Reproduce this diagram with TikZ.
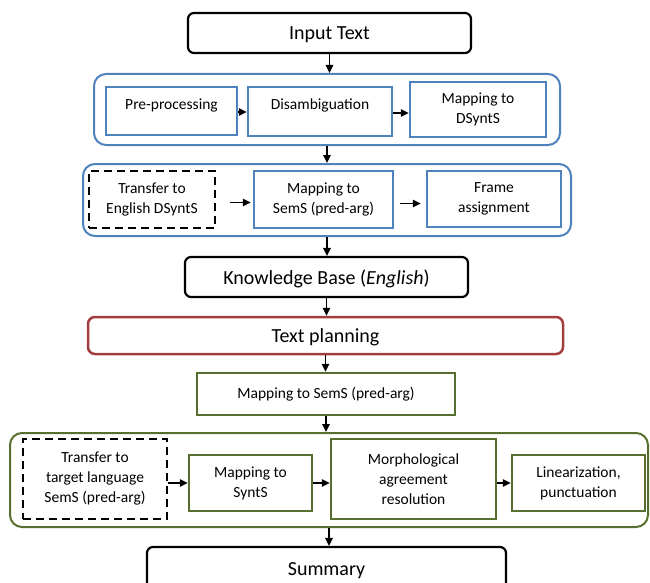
\documentclass[tikz,border=0pt]{standalone}
\usepackage{fontspec}
\setmainfont{Carlito}
\usetikzlibrary{arrows.meta}
\definecolor{cblue}{HTML}{4F81BD}
\definecolor{cred}{HTML}{A33C3C}
\definecolor{cgreen}{HTML}{58702F}
\tikzset{
  big/.style={draw=black, line width=2.2pt, rounded corners=6pt, font=\fontsize{20}{24}\selectfont, inner sep=0pt, text height=16pt, text depth=2pt},
  small/.style={line width=2.5pt, align=center, font=\fontsize{15.5}{20}\selectfont, inner sep=0pt},
  raised/.style={text height=2pt, text depth=5pt},
  bluebox/.style={small, draw=cblue},
  greenbox/.style={small, draw=cgreen},
  dashbox/.style={small, draw=black, dash pattern=on 8pt off 5pt},
  bluecont/.style={draw=cblue, line width=2pt, rounded corners=12pt, inner sep=0pt},
  greencont/.style={draw=cgreen, line width=2pt, rounded corners=12pt, inner sep=0pt},
  redbox/.style={draw=cred, line width=2.5pt, rounded corners=7pt, font=\fontsize{20}{24}\selectfont, inner sep=0pt, text height=16pt, text depth=2pt},
  arr/.style={draw=black, line width=1.3pt, -{Triangle[length=8pt,width=7.5pt]}},
}
\begin{document}
\begin{tikzpicture}[x=1pt,y=-1pt]
\useasboundingbox (0,0) rectangle (650,583);
% containers
\node[bluecont, minimum width=466pt, minimum height=71pt] (c1) at (327,109.5) {};
\node[bluecont, minimum width=488pt, minimum height=72pt] (c2) at (327,200) {};
\node[greencont, minimum width=638pt, minimum height=94pt] (c3) at (329,480) {};
% top
\node[big, minimum width=283pt, minimum height=40pt] (input) at (329.5,33) {Input Text};
% row 1
\node[bluebox, raised, minimum width=131pt, minimum height=48pt] (pre) at (171.5,111) {Pre-processing};
\node[bluebox, raised, minimum width=144pt, minimum height=49pt] (dis) at (320,111.5) {Disambiguation};
\node[bluebox, minimum width=136pt, minimum height=55pt] (mapd) at (478,109.5) {Mapping to\\DSyntS};
% row 2
\node[dashbox, minimum width=126pt, minimum height=57pt] (tren) at (152,199.5) {Transfer to\\English DSyntS};
\node[bluebox, minimum width=139pt, minimum height=57pt] (msem1) at (323.5,199.5) {Mapping to\\SemS (pred-arg)};
\node[bluebox, minimum width=134pt, minimum height=56pt] (frame) at (494,199) {Frame\\assignment};
% KB
\node[big, minimum width=283pt, minimum height=40pt] (kb) at (326.5,277) {Knowledge Base (\textit{English})};
% text planning
\node[redbox, minimum width=475pt, minimum height=37pt] (tp) at (325.5,335.5) {Text planning};
\node[greenbox, minimum width=258pt, minimum height=42pt] (msem2) at (326,394) {Mapping to SemS (pred-arg)};
% row 3
\node[dashbox, minimum width=144pt, minimum height=80pt] (ttl) at (95,479) {Transfer to\\target language\\SemS (pred-arg)};
\node[greenbox, minimum width=123pt, minimum height=56pt] (msyn) at (250.5,483) {Mapping to\\SyntS};
\node[greenbox, minimum width=165pt, minimum height=80pt] (morph) at (413.5,479) {Morphological\\agreement\\resolution};
\node[greenbox, minimum width=133pt, minimum height=56pt] (lin) at (578.5,483) {Linearization,\\punctuation};
% summary
\node[big, minimum width=359pt, minimum height=42pt] (sum) at (326.5,568) {Summary};
% vertical arrows
\draw[arr] (input.south) -- (input.south |- c1.north);
\draw[arr] (c1.south) -- (c1.south |- c2.north);
\draw[arr] (c2.south) -- (c2.south |- kb.north);
\draw[arr] (kb.south) -- (kb.south |- tp.north);
\draw[arr] (tp.south) -- (tp.south |- msem2.north);
\draw[arr] (msem2.south) -- (msem2.south |- c3.north);
\draw[arr] (c3.south) -- (c3.south |- sum.north);
% horizontal arrows
\draw[arr] ([yshift=-1pt]pre.east) -- ([yshift=-1pt]pre.east -| dis.west);
\draw[arr] ([yshift=-1.5pt]dis.east) -- ([yshift=-1.5pt]dis.east -| mapd.west);
\draw[arr, shorten <=14pt, shorten >=2pt] ([yshift=-3pt]tren.east) -- ([yshift=-3pt]tren.east -| msem1.west);
\draw[arr, shorten <=6pt, shorten >=5pt] ([yshift=-4pt]msem1.east) -- ([yshift=-4pt]msem1.east -| frame.west);
\draw[arr] (ttl.east |- msyn.west) -- (msyn.west);
\draw[arr] (msyn.east) -- (msyn.east -| morph.west);
\draw[arr] (morph.east |- lin.west) -- (lin.west);
\end{tikzpicture}
\end{document}
